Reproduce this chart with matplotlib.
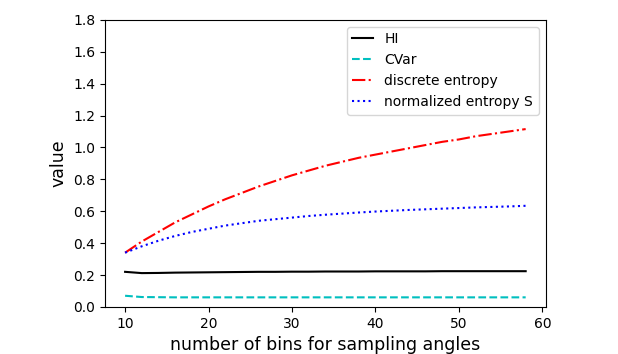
import matplotlib
matplotlib.use('Agg')
import matplotlib.pyplot as plt

# number of bins
bins = [10, 12, 14, 16, 18, 20, 22, 24, 26, 28, 30, 32, 34, 36, 38,
        40, 42, 44, 46, 48, 50, 52, 54, 56, 58]

hi = [0.220, 0.212, 0.213, 0.215, 0.216, 0.217, 0.218, 0.219, 0.220, 0.220,
      0.221, 0.221, 0.222, 0.222, 0.222, 0.223, 0.223, 0.223, 0.223, 0.224,
      0.224, 0.224, 0.224, 0.224, 0.224]
cvar = [0.070, 0.062, 0.061, 0.060, 0.060, 0.060, 0.060, 0.060, 0.060, 0.060,
        0.060, 0.060, 0.060, 0.060, 0.060, 0.060, 0.060, 0.060, 0.060, 0.060,
        0.060, 0.060, 0.060, 0.060, 0.060]
entropy = [0.340, 0.410, 0.470, 0.530, 0.580, 0.630, 0.675, 0.715, 0.755, 0.790,
           0.825, 0.855, 0.885, 0.910, 0.935, 0.955, 0.975, 0.995, 1.015, 1.035,
           1.050, 1.070, 1.085, 1.100, 1.115]
norm_entropy = [0.340, 0.380, 0.415, 0.445, 0.470, 0.490, 0.510, 0.525, 0.540, 0.550,
                0.560, 0.570, 0.578, 0.585, 0.592, 0.598, 0.603, 0.608, 0.612, 0.616,
                0.620, 0.624, 0.627, 0.630, 0.634]

fig = plt.figure(figsize=(6.18, 3.54), dpi=100)
ax = fig.add_axes([0.17, 0.133, 0.713, 0.811])

ax.plot(bins, hi, 'k-', lw=1.5, label="HI")
ax.plot(bins, cvar, 'c--', lw=1.5, label="CVar")
ax.plot(bins, entropy, 'r-.', lw=1.5, label="discrete entropy")
ax.plot(bins, norm_entropy, 'b:', lw=1.5, label="normalized entropy S")

ax.set_ylim(0, 1.8)
ax.set_xlabel("number of bins for sampling angles", fontsize=12.5)
ax.set_ylabel("value", fontsize=12.5)
ax.legend(loc="upper right", fontsize=10, handlelength=1.5)

fig.savefig("out.png", dpi=100)
